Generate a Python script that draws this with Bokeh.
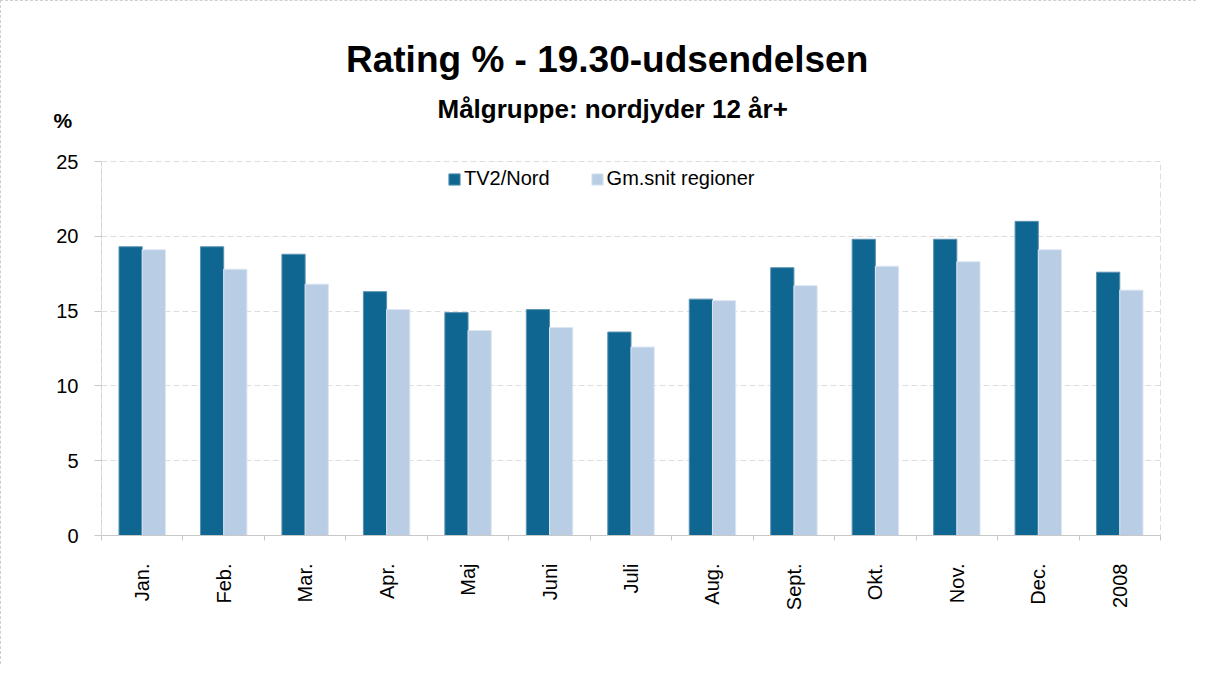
import math
from bokeh.plotting import figure
from bokeh.models import (ColumnDataSource, Range1d, FixedTicker, Legend, LegendItem, Title)
from bokeh.embed import file_html
from bokeh.resources import INLINE

categories = ["Jan.", "Feb.", "Mar.", "Apr.", "Maj", "Juni", "Juli", "Aug.",
              "Sept.", "Okt.", "Nov.", "Dec.", "2008"]
tv2_nord = [19.3, 19.3, 18.8, 16.3, 14.9, 15.1, 13.6, 15.8, 17.9, 19.8, 19.8, 21.0, 17.6]
gm_snit = [19.1, 17.8, 16.8, 15.1, 13.7, 13.9, 12.6, 15.7, 16.7, 18.0, 18.3, 19.1, 16.4]
series_names = ["TV2/Nord", "Gm.snit regioner"]
y_ticks = [0, 5, 10, 15, 20, 25]
title_text = "Rating % - 19.30-udsendelsen"
subtitle_text = "Målgruppe: nordjyder 12 år+"
unit_text = "%"

FONT = "Liberation Sans"
DARK = "#0F6690"
LIGHT = "#B9CDE5"

n = len(categories)
centers = [i + 0.5 for i in range(n)]
bw = 0.285
src = ColumnDataSource(dict(
    x1=[c - bw / 2 for c in centers],
    x2=[c + bw / 2 for c in centers],
    tv2=tv2_nord, gm=gm_snit))

p = figure(width=1196, height=664, output_backend="svg", toolbar_location=None,
           x_range=Range1d(0, n), y_range=Range1d(0, 25),
           min_border_left=100, min_border_right=37, min_border_top=160,
           min_border_bottom=130, title=None)
p.background_fill_color = "white"
p.border_fill_color = "white"
p.outline_line_color = "#dedede"
p.outline_line_dash = "6 3"

r1 = p.vbar(x="x1", top="tv2", width=bw, bottom=0, source=src,
            fill_color=DARK, line_color="#5a92b3", line_width=1)
r2 = p.vbar(x="x2", top="gm", width=bw, bottom=0, source=src,
            fill_color=LIGHT, line_color="#dbe6f2", line_width=1)

xa = p.xaxis[0]
xa.ticker = FixedTicker(ticks=centers, minor_ticks=list(range(n + 1)))
xa.major_label_overrides = {c: lab for c, lab in zip(centers, categories)}
xa.major_label_orientation = math.pi / 2
xa.major_tick_line_color = None
xa.major_tick_out = 0
xa.major_tick_in = 0
xa.minor_tick_line_color = "#c8c8c8"
xa.minor_tick_out = 5
xa.minor_tick_in = 0
xa.axis_line_color = "#c8c8c8"
xa.major_label_standoff = 23
xa.major_label_text_font = FONT
xa.major_label_text_font_size = "20px"
xa.major_label_text_color = "black"

ya = p.yaxis[0]
ya.ticker = FixedTicker(ticks=y_ticks)
ya.axis_line_color = "#c8c8c8"
ya.axis_line_dash = "1 1"
ya.major_tick_line_color = "#c8c8c8"
ya.major_tick_out = 7
ya.major_tick_in = 0
ya.minor_tick_line_color = None
ya.major_label_standoff = 16
ya.major_label_text_font = FONT
ya.major_label_text_font_size = "20px"
ya.major_label_text_color = "black"

p.xgrid.grid_line_color = None
p.ygrid.grid_line_color = "#dedede"
p.ygrid.grid_line_dash = "6 3"

# titles stacked in the "above" panel (closest to the frame first)
pct = Title(text=unit_text, align="left", vertical_align="top", offset=-48, standoff=55,
            text_font=FONT, text_font_size="21px", text_font_style="bold",
            text_color="black")
main = Title(text=title_text, align="left", vertical_align="bottom", offset=244.5,
             standoff=4, text_font=FONT, text_font_size="37px",
             text_font_style="bold", text_color="black")
sub = Title(text=subtitle_text, align="left", vertical_align="bottom", offset=336,
            standoff=-178, text_font=FONT, text_font_size="26px",
            text_font_style="bold", text_color="black")
p.add_layout(pct, "above")
p.add_layout(main, "above")
p.add_layout(sub, "above")

# legend kept inside the plot area (free band under the 25 gridline)
legend = Legend(items=[LegendItem(label=series_names[0], renderers=[r1]),
                       LegendItem(label=series_names[1], renderers=[r2])],
                orientation="horizontal", location=(346, 345),
                label_text_font=FONT, label_text_font_size="20px",
                label_text_color="black", glyph_width=14, glyph_height=14,
                label_standoff=3, spacing=40, padding=0, margin=0,
                border_line_color=None, background_fill_alpha=0)
p.add_layout(legend, "center")

p.styles = {"border-top": "1px dashed #cfcfcf", "border-left": "1px dashed #cfcfcf"}

open("out.html", "w").write(file_html(p, INLINE))
